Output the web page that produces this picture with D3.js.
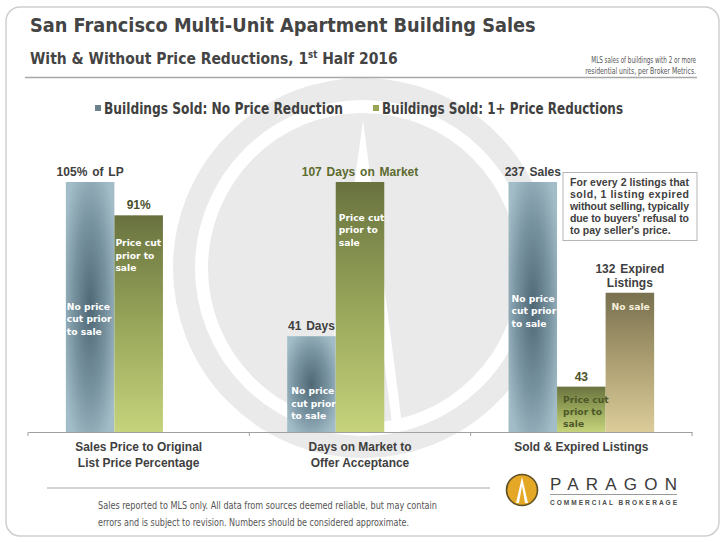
<!DOCTYPE html>
<html><head><meta charset="utf-8">
<script src="https://cdn.jsdelivr.net/npm/d3@7"></script>
<style>body{margin:0;background:#fff}</style>
</head><body>
<svg id="chart" width="725" height="542"></svg>
<script>
// ---------- DATA ----------
const categories = ["Sales Price to Original List Price Percentage", "Days on Market to Offer Acceptance", "Sold & Expired Listings"];
const categoryLines = [["Sales Price to Original", "List Price Percentage"], ["Days on Market to", "Offer Acceptance"], ["Sold & Expired Listings"]];
const seriesKeys = ["noReduction", "withReduction", "expired"];
const legendLabels = ["Buildings Sold: No Price Reduction", "Buildings Sold: 1+ Price Reductions"];
const noReduction = [105, 41, 237];
const withReduction = [91, 107, 43];
const expired = [null, null, 132];
const noReductionLabels = [["105% of LP"], ["41 Days"], ["237 Sales"]];
const withReductionLabels = [["91%"], ["107 Days on Market"], ["43"]];
const expiredLabels = [null, null, ["132 Expired", "Listings"]];
const inBarTexts = { noReduction: ["No price", "cut prior", "to sale"], withReduction: ["Price cut", "prior to", "sale"], expired: ["No sale"] };
const titleText = "San Francisco Multi-Unit Apartment Building Sales";
const noteLines = ["MLS sales of buildings with 2 or more", "residential units, per Broker Metrics."];
const boxLines = ["For every 2 listings that", "sold, 1 listing expired", "without selling, typically", "due to buyers' refusal to", "to pay seller's price."];
const footerLines = ["Sales reported to MLS only. All data from sources deemed reliable, but may contain", "errors and is subject to revision. Numbers should be considered approximate."];

// ---------- STYLE / LAYOUT ----------
const NARROW = "'Liberation Sans Narrow','Arial Narrow','DejaVu Sans Condensed','Liberation Sans',Arial,sans-serif";
const SANS = "'Liberation Sans',Arial,Helvetica,sans-serif";
const WIDE = "'DejaVu Sans',Verdana,sans-serif";
const svg = d3.select("#chart");
svg.append("rect").attr("width", 725).attr("height", 542).attr("fill", "#fff");

const defs = svg.append("defs");
const rg = defs.append("radialGradient").attr("id", "gBlue").attr("cx", 0.5).attr("cy", 0.5).attr("r", 0.62);
rg.append("stop").attr("offset", 0).attr("stop-color", "#506875");
rg.append("stop").attr("offset", 0.55).attr("stop-color", "#7893a0");
rg.append("stop").attr("offset", 1).attr("stop-color", "#a3bdc8");
const lgG = defs.append("linearGradient").attr("id", "gGreen").attr("x1", 0).attr("y1", 0).attr("x2", 0).attr("y2", 1);
lgG.append("stop").attr("offset", 0).attr("stop-color", "#69723f");
lgG.append("stop").attr("offset", 0.5).attr("stop-color", "#97a65a");
lgG.append("stop").attr("offset", 1).attr("stop-color", "#c6d37c");
const lgT = defs.append("linearGradient").attr("id", "gTan").attr("x1", 0).attr("y1", 0).attr("x2", 0).attr("y2", 1);
lgT.append("stop").attr("offset", 0).attr("stop-color", "#78704f");
lgT.append("stop").attr("offset", 0.5).attr("stop-color", "#ad9f72");
lgT.append("stop").attr("offset", 1).attr("stop-color", "#dccc9a");
defs.append("clipPath").attr("id", "discClip").append("circle").attr("cx", 363).attr("cy", 268).attr("r", 155);
const fills = { noReduction: "url(#gBlue)", withReduction: "url(#gGreen)", expired: "url(#gTan)" };

// outer rounded frame
svg.append("rect").attr("x", 6).attr("y", 7).attr("width", 713).attr("height", 529).attr("rx", 14)
  .attr("fill", "#fff").attr("stroke", "#cfcfcf").attr("stroke-width", 1.5);

// watermark
const wm = svg.append("g");
wm.append("circle").attr("cx", 363).attr("cy", 268).attr("r", 179).attr("fill", "none").attr("stroke", "#eaeaea").attr("stroke-width", 22);
wm.append("circle").attr("cx", 363).attr("cy", 268).attr("r", 155).attr("fill", "#eaeaea");
const wedge = wm.append("g").attr("clip-path", "url(#discClip)");
wedge.append("polygon").attr("points", "363,120 320,440 404,440").attr("fill", "#fff");
wedge.append("polygon").attr("points", "363,190 332,440 394,440").attr("fill", "#eaeaea");

// header
function fitText(sel, target) {
  const w = sel.node().getComputedTextLength();
  const fs = parseFloat(sel.attr("font-size"));
  sel.attr("font-size", fs * target / w);
  return fs * target / w;
}
const title = svg.append("text").attr("x", 30).attr("y", 32).attr("font-family", NARROW).attr("font-weight", "bold")
  .attr("font-size", 22).attr("fill", "#444").text(titleText);
fitText(title, 506);
const sub = svg.append("text").attr("x", 30).attr("y", 64).attr("font-family", NARROW).attr("font-weight", "bold")
  .attr("font-size", 16).attr("fill", "#444");
sub.append("tspan").text("With & Without Price Reductions, 1");
sub.append("tspan").attr("font-size", "0.62em").attr("dy", -6).text("st");
sub.append("tspan").attr("dy", 6).text(" Half 2016");
fitText(sub, 368);
const noteW = [105, 111];
noteLines.forEach((t, i) => {
  const g = svg.append("g");
  const s = g.append("text").attr("x", 0).attr("y", 0).attr("text-anchor", "end")
    .attr("font-family", NARROW).attr("font-size", 9.5).attr("fill", "#555").text(t);
  const k = noteW[i] / s.node().getComputedTextLength();
  g.attr("transform", `translate(696,${63 + i * 11}) scale(${k},1)`);
});
svg.append("line").attr("x1", 25).attr("x2", 697).attr("y1", 77.5).attr("y2", 77.5).attr("stroke", "#a8a8a8").attr("stroke-width", 1.5);

// legend
const legendX = [95, 373], legendW = [239, 241], legendCol = ["#6b818c", "#97a556"];
legendLabels.forEach((t, i) => {
  svg.append("rect").attr("x", legendX[i]).attr("y", 105).attr("width", 6).attr("height", 6).attr("fill", legendCol[i]);
  svg.append("text").attr("x", legendX[i] + 9).attr("y", 114).attr("font-family", NARROW).attr("font-weight", "bold")
    .attr("font-size", 15).attr("fill", "#404040").attr("textLength", legendW[i]).attr("lengthAdjust", "spacingAndGlyphs").text(t);
});

// scales
const x0 = d3.scaleBand().domain(categories).range([28, 692]).padding(0);
const x1 = d3.scaleBand().domain(seriesKeys).range([0, x0.bandwidth()]).paddingInner(0).paddingOuter(0.78);
const seriesVals = { noReduction, withReduction, expired };
const seriesLabels = { noReduction: noReductionLabels, withReduction: withReductionLabels, expired: expiredLabels };
const yScales = categories.map((c, i) => d3.scaleLinear()
  .domain([0, d3.max(seriesKeys, k => seriesVals[k][i] || 0)]).range([432, 182]));

const bars = [];
categories.forEach((c, i) => seriesKeys.forEach(k => {
  if (seriesVals[k][i] != null) bars.push({ c, i, k, v: seriesVals[k][i] });
}));

// bars
const plot = svg.append("g");
plot.selectAll("rect.bar").data(bars).join("rect").attr("class", "bar")
  .attr("x", d => x0(d.c) + x1(d.k)).attr("width", x1.bandwidth())
  .attr("y", d => yScales[d.i](d.v)).attr("height", d => yScales[d.i](0) - yScales[d.i](d.v))
  .attr("fill", d => fills[d.k]);

// axis
const axis = svg.append("g").attr("transform", "translate(0,432)")
  .call(d3.axisBottom(x0).tickSize(0).tickSizeOuter(0).tickFormat(""));
axis.select(".domain").attr("stroke", "#a0a0a0").attr("stroke-width", 1.2);
const edges = categories.map(c => x0(c)).concat([x0(categories[2]) + x0.bandwidth()]);
axis.selectAll("line.edge").data(edges).join("line").attr("class", "edge")
  .attr("x1", d => d).attr("x2", d => d).attr("y1", 0).attr("y2", 4).attr("stroke", "#a0a0a0");

// category labels
let catFs = null;
categoryLines.forEach((lines, i) => {
  const cx = x0(categories[i]) + x0.bandwidth() / 2;
  lines.forEach((t, j) => {
    const s = svg.append("text").attr("x", cx).attr("y", 451 + j * 15.5).attr("text-anchor", "middle")
      .attr("font-family", SANS).attr("font-weight", "bold").attr("font-size", 12).attr("fill", "#404040").text(t);
    if (catFs === null) catFs = fitText(s, 127); else s.attr("font-size", catFs);
  });
});

// value labels above bars
const valueColor = { noReduction: "#404040", withReduction: "#4e5630", expired: "#404040" };
const valueColor2 = ["#4a4f2c", "#5c6a2e", "#4a5226"];
bars.forEach(d => {
  const lines = seriesLabels[d.k][d.i];
  const cx = x0(d.c) + x1(d.k) + x1.bandwidth() / 2;
  const top = yScales[d.i](d.v);
  const col = d.k === "withReduction" ? valueColor2[d.i] : valueColor[d.k];
  lines.forEach((t, j) => {
    svg.append("text").attr("x", cx).attr("y", top - 6 - (lines.length - 1 - j) * 14)
      .attr("text-anchor", "middle").attr("font-family", SANS).attr("font-weight", "bold")
      .attr("font-size", 12).attr("word-spacing", 1.5).attr("fill", col).text(t);
  });
});

// in-bar annotation text (offset from bar top, left inset)
const inBarPos = {
  "0noReduction": [128, 1], "0withReduction": [31, 1],
  "1noReduction": [58, 4], "1withReduction": [39, 3],
  "2noReduction": [120, 3], "2withReduction": [16, 6], "2expired": [17, 6]
};
bars.forEach(d => {
  const [dy, dx] = inBarPos[d.i + d.k];
  const x = x0(d.c) + x1(d.k) + dx;
  const top = yScales[d.i](d.v);
  const col = (d.i === 2 && d.k === "withReduction") ? "#4d5728" : (d.k === "expired" ? "#f6efdc" : "#ffffff");
  inBarTexts[d.k].forEach((t, j) => {
    svg.append("text").attr("x", x).attr("y", top + dy + j * 12.3).attr("font-family", WIDE)
      .attr("font-weight", "bold").attr("font-size", 9.2).attr("fill", col).text(t);
  });
});

// annotation box
svg.append("rect").attr("x", 563).attr("y", 172.5).attr("width", 134).attr("height", 68).attr("fill", "#fff")
  .attr("stroke", "#b5b5b5").attr("stroke-width", 1);
boxLines.forEach((t, i) => {
  const s = svg.append("text").attr("x", 570).attr("y", 186 + i * 12).attr("font-family", SANS)
    .attr("font-weight", "bold").attr("font-size", 10.5).attr("fill", "#404040").text(t);
  if (i < boxLines.length - 1) s.attr("textLength", 119).attr("lengthAdjust", "spacing");
});

// footer
svg.append("line").attr("x1", 47).attr("x2", 490).attr("y1", 488).attr("y2", 488).attr("stroke", "#a8a8a8").attr("stroke-width", 1.2);
const footW = [339, 311];
footerLines.forEach((t, i) => {
  svg.append("text").attr("x", 98).attr("y", 509 + i * 17).attr("font-family", NARROW).attr("font-size", 10.5)
    .attr("fill", "#555").attr("textLength", footW[i]).attr("lengthAdjust", "spacingAndGlyphs").text(t);
});

// logo
const logo = svg.append("g");
logo.append("circle").attr("cx", 522).attr("cy", 490).attr("r", 15.5).attr("fill", "#e4a726").attr("stroke", "#5e4f24").attr("stroke-width", 1.6);
logo.append("polygon").attr("points", "522,477 516,503 519,503 522,486 525,503 528,503").attr("fill", "#fff");
logo.append("text").attr("x", 550).attr("y", 490).attr("font-family", SANS).attr("font-size", 17)
  .attr("fill", "#3a3a3a").attr("textLength", 127).attr("lengthAdjust", "spacing").text("PARAGON");
logo.append("line").attr("x1", 550).attr("x2", 677).attr("y1", 494.5).attr("y2", 494.5).attr("stroke", "#9a9a9a").attr("stroke-width", 1);
logo.append("text").attr("x", 550).attr("y", 505).attr("font-family", SANS).attr("font-weight", "bold").attr("font-size", 6.5)
  .attr("fill", "#4a4a4a").attr("textLength", 127).attr("lengthAdjust", "spacing").text("COMMERCIAL BROKERAGE");
</script>
</body></html>
